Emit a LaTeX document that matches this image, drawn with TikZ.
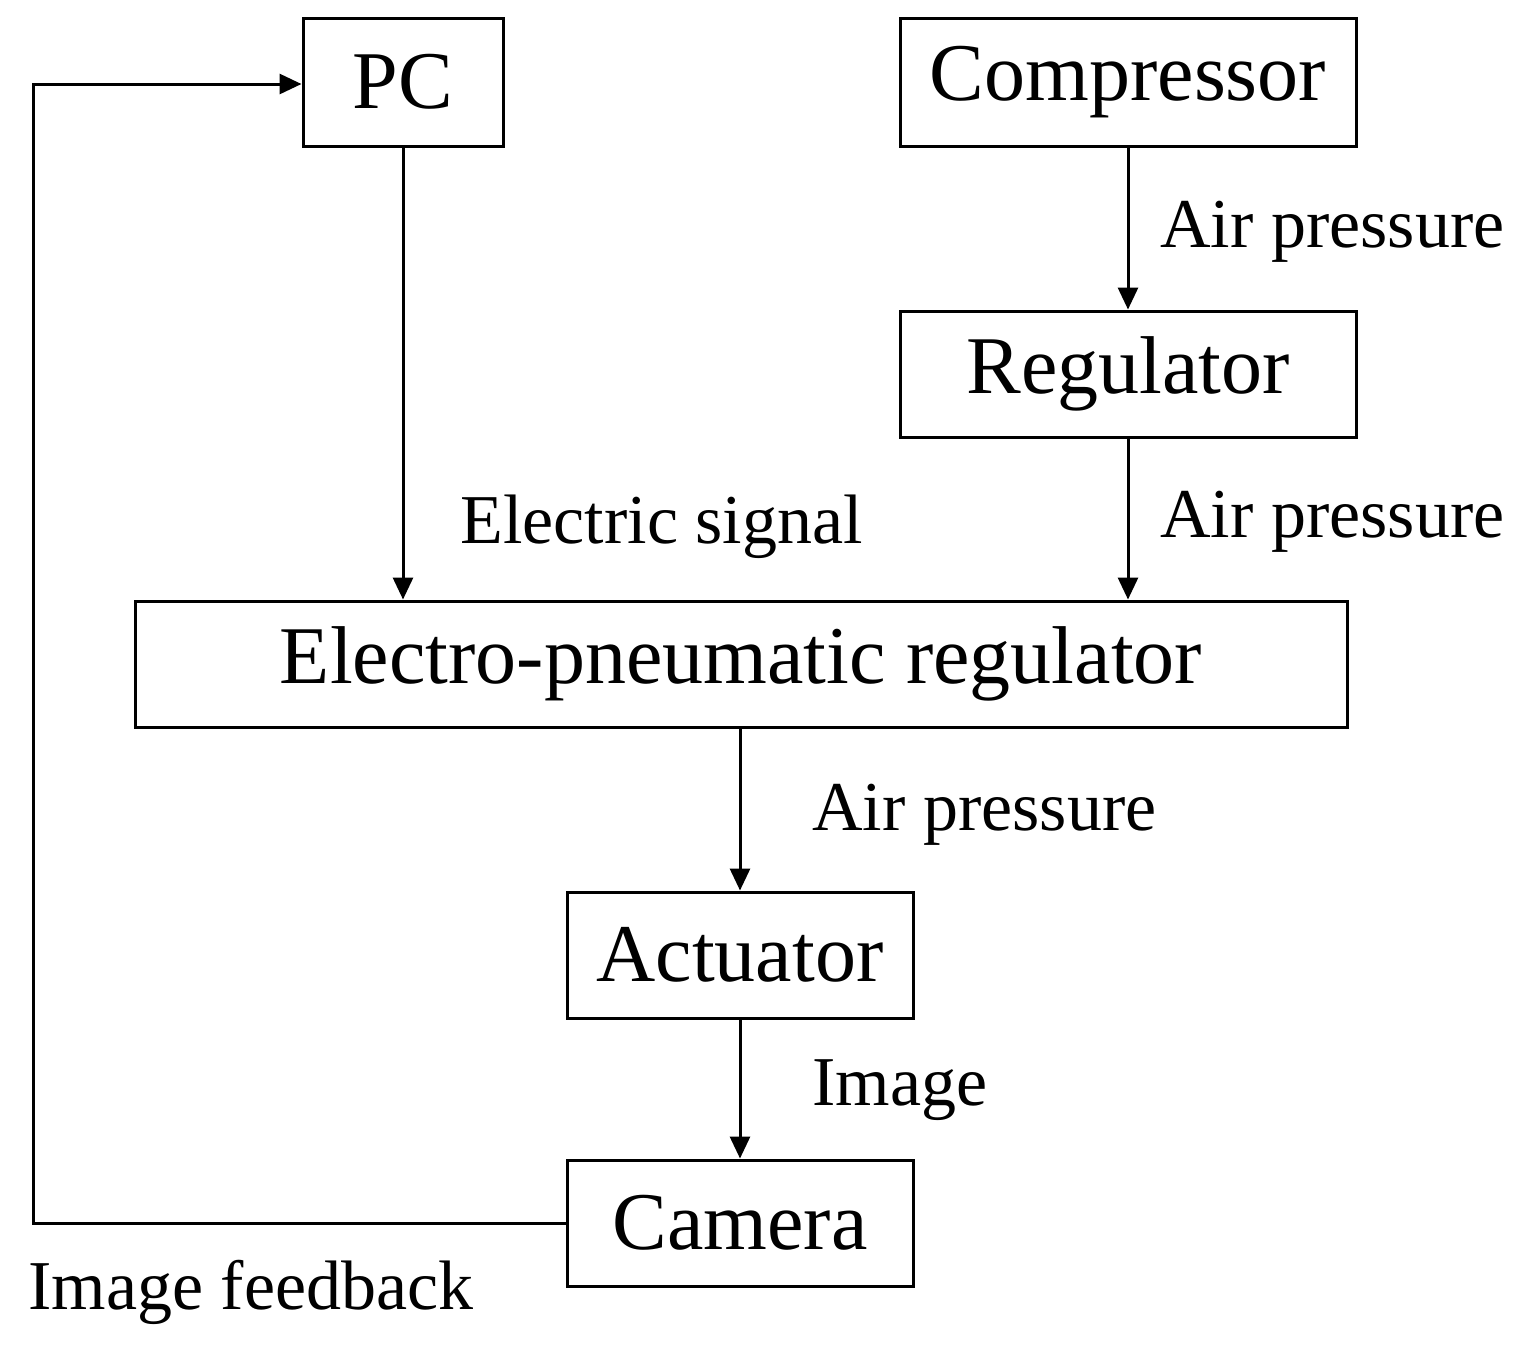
\documentclass[tikz,border=0pt]{standalone}
\usepackage{fontspec}
\setmainfont{Liberation Serif}
\usetikzlibrary{arrows.meta}
\begin{document}
\begin{tikzpicture}[x=0.5pt,y=-0.5pt,
 box/.style={draw,line width=1.5pt,inner sep=0pt,font=\fontsize{41}{45}\selectfont},
 lab/.style={font=\fontsize{35}{38}\selectfont,inner sep=0pt,anchor=west},
 arr/.style={line width=1.5pt,-{Triangle[length=11pt,width=10pt]}}]
\useasboundingbox (0,0) rectangle (1516,1357);
\node[box,minimum width=100pt,minimum height=64pt] (pc) at (403,82) {PC};
\node[box,minimum width=228pt,minimum height=64pt] (comp) at (1128,82) {Compressor};
\node[box,minimum width=228pt,minimum height=63pt] (reg) at (1128,374) {Regulator};
\node[box,minimum width=606pt,minimum height=63pt] (epr) at (741,664) {Electro-pneumatic regulator};
\node[box,minimum width=173pt,minimum height=63pt] (act) at (740,955) {Actuator};
\node[box,minimum width=173pt,minimum height=63pt] (cam) at (740,1223) {Camera};
\coordinate (c1) at (33,1223);
\coordinate (c2) at (33,84);
\draw[arr] (comp) -- (reg);
\draw[arr] (reg) -- (reg.south |- epr.north);
\draw[arr] (pc) -- (pc.south |- epr.north);
\draw[arr] (act.north |- epr.south) -- (act);
\draw[arr] (act) -- (cam);
\draw[arr] (cam.west) -- (c1) -- (c2) -- (pc.west |- c2);
\node[lab] (l1) at (1160,232) {Air pressure};
\node[lab] (l2) at (1160,522) {Air pressure};
\node[lab] (l3) at (460,527) {Electric signal};
\node[lab] (l4) at (812,815) {Air pressure};
\node[lab] (l5) at (812,1090) {Image};
\node[lab] (l6) at (28,1292) {Image feedback};
\end{tikzpicture}
\end{document}
